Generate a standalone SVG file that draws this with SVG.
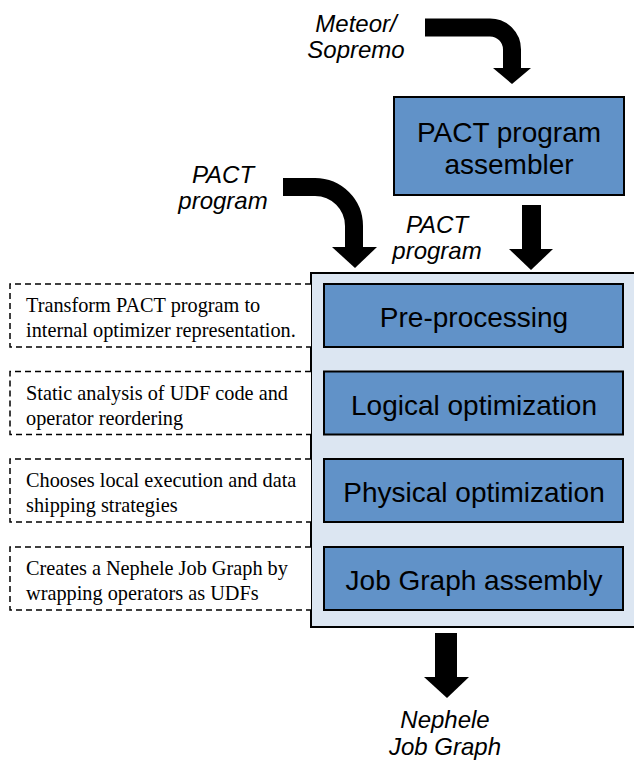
<svg xmlns="http://www.w3.org/2000/svg" width="634" height="762" viewBox="0 0 634 762">
<defs>
<style>
.lbl{font-family:"Liberation Sans",Arial,sans-serif;font-style:italic;font-size:24px;fill:#000;text-anchor:middle}
.box{fill:#6192C8;stroke:#000;stroke-width:2}
.btxt{font-family:"Liberation Sans",Arial,sans-serif;font-size:28px;fill:#000;text-anchor:middle}
.note{fill:#fff;stroke:#000;stroke-width:1.5;stroke-dasharray:6 4}
.ntxt{font-family:"Liberation Serif","Times New Roman",serif;font-size:20.3px;fill:#000}
.shaft{fill:none;stroke:#000;stroke-linecap:butt}
.head{fill:#000}
</style>
</defs>
<rect width="634" height="762" fill="#fff"/>
<g id="container">
<rect x="311" y="273" width="335" height="354" fill="#DCE6F2" stroke="#000" stroke-width="2"/>
</g>
<g id="assembler">
<rect class="box" x="394" y="97" width="230" height="98"/>
<text class="btxt" x="509" y="142">PACT program</text>
<text class="btxt" x="509" y="174">assembler</text>
</g>
<g id="preprocessing">
<rect class="box" x="324" y="284" width="299" height="63"/>
<text class="btxt" x="474" y="327">Pre-processing</text>
</g>
<g id="logical">
<rect class="box" x="324" y="371.5" width="299" height="63"/>
<text class="btxt" x="474" y="415">Logical optimization</text>
</g>
<g id="physical">
<rect class="box" x="324" y="459" width="299" height="63"/>
<text class="btxt" x="474" y="502">Physical optimization</text>
</g>
<g id="jobgraph">
<rect class="box" x="324" y="547" width="299" height="63"/>
<text class="btxt" x="474" y="590">Job Graph assembly</text>
</g>
<g id="note1">
<path class="note" d="M311,284 H10 V347 H311"/>
<text class="ntxt" x="26" y="312">Transform PACT program to</text>
<text class="ntxt" x="26" y="337">internal optimizer representation.</text>
</g>
<g id="note2">
<path class="note" d="M311,371.5 H10 V434.5 H311"/>
<text class="ntxt" x="26" y="399.5">Static analysis of UDF code and</text>
<text class="ntxt" x="26" y="424.5">operator reordering</text>
</g>
<g id="note3">
<path class="note" d="M311,459 H10 V522 H311"/>
<text class="ntxt" x="26" y="487">Chooses local execution and data</text>
<text class="ntxt" x="26" y="512">shipping strategies</text>
</g>
<g id="note4">
<path class="note" d="M311,547 H10 V610 H311"/>
<text class="ntxt" x="26" y="575">Creates a Nephele Job Graph by</text>
<text class="ntxt" x="26" y="600">wrapping operators as UDFs</text>
</g>
<g id="labels">
<text class="lbl" x="356" y="32">Meteor/</text>
<text class="lbl" x="356" y="58">Sopremo</text>
<text class="lbl" x="223" y="183">PACT</text>
<text class="lbl" x="223" y="209">program</text>
<text class="lbl" x="437" y="233">PACT</text>
<text class="lbl" x="437" y="259">program</text>
<text class="lbl" x="445" y="728">Nephele</text>
<text class="lbl" x="445" y="755">Job Graph</text>
</g>
<g id="connectors">
<path class="shaft" stroke-width="18" d="M425,27.5 H490 A22,22 0 0 1 512,49.5 V69"/>
<polygon class="head" points="493,68 531,68 512,84"/>
<path class="shaft" stroke-width="18" d="M283,187 H315 A39,39 0 0 1 354,226 V248"/>
<polygon class="head" points="332,247 377,247 355,268"/>
<path class="shaft" stroke-width="19" d="M531.5,205 V250"/>
<polygon class="head" points="509,249 553,249 531,270"/>
<path class="shaft" stroke-width="22" d="M446,633 V678"/>
<polygon class="head" points="424,677 469,677 447,698"/>
</g>
</svg>
